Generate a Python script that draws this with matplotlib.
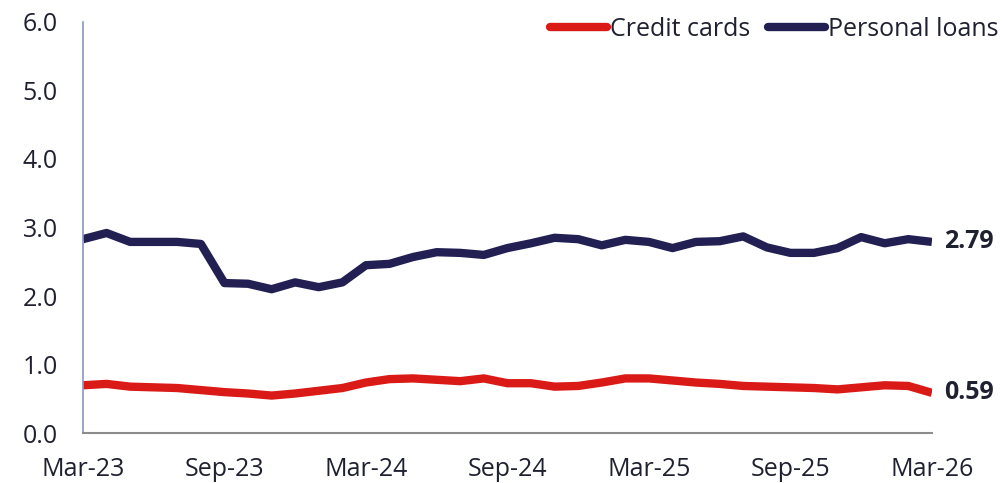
import matplotlib.pyplot as plt
import numpy as np

plt.rcParams['font.family'] = ['Open Sans', 'DejaVu Sans']

# monthly series, Mar-23 .. Mar-26
months = ['Mar-23', 'Apr-23', 'May-23', 'Jun-23', 'Jul-23', 'Aug-23', 'Sep-23', 'Oct-23',
          'Nov-23', 'Dec-23', 'Jan-24', 'Feb-24', 'Mar-24', 'Apr-24', 'May-24', 'Jun-24',
          'Jul-24', 'Aug-24', 'Sep-24', 'Oct-24', 'Nov-24', 'Dec-24', 'Jan-25', 'Feb-25',
          'Mar-25', 'Apr-25', 'May-25', 'Jun-25', 'Jul-25', 'Aug-25', 'Sep-25', 'Oct-25',
          'Nov-25', 'Dec-25', 'Jan-26', 'Feb-26', 'Mar-26']

credit_cards = [0.70, 0.72, 0.68, 0.67, 0.66, 0.63, 0.60, 0.58, 0.55, 0.58, 0.62, 0.66,
                0.74, 0.79, 0.80, 0.78, 0.76, 0.80, 0.73, 0.73, 0.68, 0.69, 0.74, 0.80,
                0.80, 0.77, 0.74, 0.72, 0.69, 0.68, 0.67, 0.66, 0.64, 0.67, 0.70, 0.69,
                0.59]

personal_loans = [2.83, 2.92, 2.79, 2.79, 2.79, 2.76, 2.19, 2.18, 2.10, 2.20, 2.13, 2.20,
                  2.45, 2.47, 2.57, 2.64, 2.63, 2.60, 2.70, 2.77, 2.85, 2.83, 2.74, 2.82,
                  2.79, 2.70, 2.79, 2.80, 2.87, 2.71, 2.63, 2.63, 2.70, 2.86, 2.77, 2.83,
                  2.79]

red = '#da1a16'
navy = '#221f52'
text_col = '#1f2130'
fs = 18

x = np.arange(len(months))

fig = plt.figure(figsize=(10.02, 4.83), dpi=100)
ax = fig.add_axes([0.0828, 0.1029, 0.8472, 0.8522])

ax.plot(x, credit_cards, color=red, lw=6, solid_capstyle='butt', label='Credit cards')
ax.plot(x, personal_loans, color=navy, lw=6, solid_capstyle='butt', label='Personal loans')

# end-of-series values
ax.text(x[-1] + 0.5, credit_cards[-1], f'{credit_cards[-1]:.2f}', va='center', ha='left',
        fontsize=fs, fontweight='bold', color=text_col, clip_on=False)
ax.text(x[-1] + 0.5, personal_loans[-1], f'{personal_loans[-1]:.2f}', va='center', ha='left',
        fontsize=fs, fontweight='bold', color=text_col, clip_on=False)

ax.set_xlim(0, len(months) - 1)
ax.set_ylim(0, 6)
ax.set_yticks(np.arange(0, 6.1, 1.0))
ax.set_yticklabels([f'{v:.1f}' for v in np.arange(0, 6.1, 1.0)])
ax.set_xticks(x[::6])
ax.set_xticklabels(months[::6])

ax.tick_params(axis='both', length=0, labelsize=fs, colors=text_col)
ax.tick_params(axis='x', pad=17)
ax.tick_params(axis='y', pad=18)

for s in ['top', 'right']:
    ax.spines[s].set_visible(False)
ax.spines['left'].set_color('#8a96c0')
ax.spines['left'].set_linewidth(1.2)
ax.spines['bottom'].set_color('#8c8c8c')
ax.spines['bottom'].set_linewidth(1.5)

leg = fig.legend(loc='center right', bbox_to_anchor=(0.997, 1 - 29 / 483), ncol=2, frameon=False,
                 fontsize=fs, handlelength=2.3, handletextpad=0.12, columnspacing=0.7,
                 borderaxespad=0.0, borderpad=0.0)
for h in leg.get_lines():
    h.set_solid_capstyle('round')
for t in leg.get_texts():
    t.set_color(text_col)

fig.savefig('out.png', dpi=100)
